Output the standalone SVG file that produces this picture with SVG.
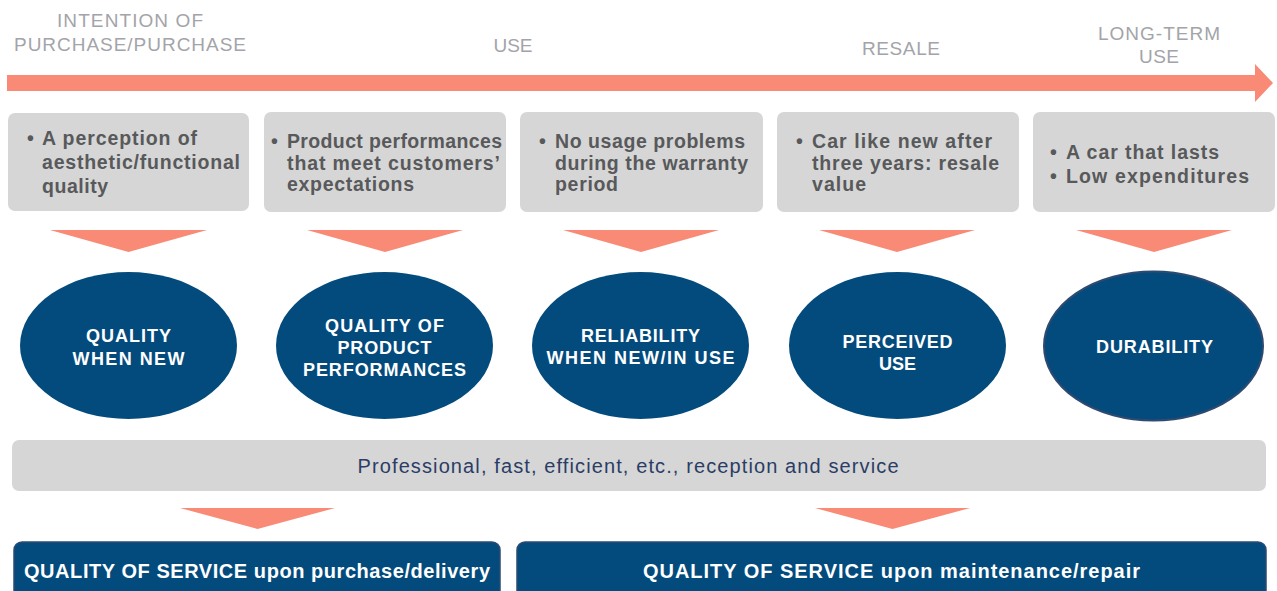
<svg xmlns="http://www.w3.org/2000/svg" width="1277" height="591" viewBox="0 0 1277 591">
<style>
.lbl{font-family:"Liberation Sans",Arial,sans-serif;font-size:19px;fill:#a3a4a9;text-anchor:middle}
.box{fill:#d6d6d6}
.bt{font-family:"Liberation Sans",Arial,sans-serif;font-size:19.5px;font-weight:bold;fill:#58595b}
.ell{fill:#034b7d}
.et{font-family:"Liberation Sans",Arial,sans-serif;font-size:18px;font-weight:bold;fill:#ffffff;text-anchor:middle}
.sal{fill:#f98a75}
.bar{fill:#d6d6d6}
.bar-t{font-family:"Liberation Sans",Arial,sans-serif;font-size:20px;fill:#2b3d66;text-anchor:middle}
.svc{fill:#034b7d;stroke:#2d4b72;stroke-width:1.5}
.svc-t{font-family:"Liberation Sans",Arial,sans-serif;font-size:20px;font-weight:bold;fill:#ffffff;text-anchor:middle}
</style>
<rect width="1277" height="591" fill="#ffffff"/>

<g id="stage-labels">
<text class="lbl" x="130" y="27" textLength="146">INTENTION OF</text>
<text class="lbl" x="130" y="51" textLength="232">PURCHASE/PURCHASE</text>
<text class="lbl" x="513" y="52" textLength="39">USE</text>
<text class="lbl" x="901" y="55" textLength="78">RESALE</text>
<text class="lbl" x="1159" y="40" textLength="122">LONG-TERM</text>
<text class="lbl" x="1159" y="63" textLength="40">USE</text>
</g>

<g id="connectors">
<path class="sal" d="M7,75 H1255 V64 L1273,83 L1255,102 V91 H7 Z"/>
<path class="sal" d="M50,230 H207 L128.5,252 Z"/>
<path class="sal" d="M307,230 H463 L385,252 Z"/>
<path class="sal" d="M563,230 H719 L641,252 Z"/>
<path class="sal" d="M819,230 H975 L897,252 Z"/>
<path class="sal" d="M1076,230 H1232 L1154,252 Z"/>
<path class="sal" d="M180,508 H335 L257.5,529 Z"/>
<path class="sal" d="M815,508 H970 L892.5,529 Z"/>
</g>

<g id="box1">
<rect class="box" x="8" y="113" width="241" height="98" rx="7"/>
<text class="bt" x="27" y="145">•</text>
<text class="bt" x="42" y="145" textLength="155">A perception of</text>
<text class="bt" x="42" y="169" textLength="198">aesthetic/functional</text>
<text class="bt" x="42" y="193" textLength="66">quality</text>
</g>
<g id="box2">
<rect class="box" x="264" y="112" width="242" height="100" rx="7"/>
<text class="bt" x="271" y="148">•</text>
<text class="bt" x="287" y="148" textLength="215">Product performances</text>
<text class="bt" x="287" y="170" textLength="213">that meet customers’</text>
<text class="bt" x="287" y="191" textLength="127">expectations</text>
</g>
<g id="box3">
<rect class="box" x="520" y="112" width="243" height="100" rx="7"/>
<text class="bt" x="539" y="148">•</text>
<text class="bt" x="555" y="148" textLength="190">No usage problems</text>
<text class="bt" x="555" y="170" textLength="193">during the warranty</text>
<text class="bt" x="555" y="191" textLength="63">period</text>
</g>
<g id="box4">
<rect class="box" x="777" y="112" width="242" height="100" rx="7"/>
<text class="bt" x="796" y="148">•</text>
<text class="bt" x="812" y="148" textLength="180">Car like new after</text>
<text class="bt" x="812" y="170" textLength="187">three years: resale</text>
<text class="bt" x="812" y="191" textLength="54">value</text>
</g>
<g id="box5">
<rect class="box" x="1033" y="112" width="242" height="100" rx="7"/>
<text class="bt" x="1050" y="159">•</text>
<text class="bt" x="1066" y="159" textLength="153">A car that lasts</text>
<text class="bt" x="1050" y="183">•</text>
<text class="bt" x="1066" y="183" textLength="183">Low expenditures</text>
</g>

<g id="ellipse1">
<ellipse class="ell" cx="128.5" cy="345.5" rx="108.5" ry="73.5"/>
<text class="et" x="128.5" y="342" textLength="85">QUALITY</text>
<text class="et" x="128.5" y="365" textLength="112">WHEN NEW</text>
</g>
<g id="ellipse2">
<ellipse class="ell" cx="384.5" cy="345.5" rx="108.5" ry="73.5"/>
<text class="et" x="384.5" y="332" textLength="119">QUALITY OF</text>
<text class="et" x="384.5" y="354" textLength="94">PRODUCT</text>
<text class="et" x="384.5" y="376" textLength="163">PERFORMANCES</text>
</g>
<g id="ellipse3">
<ellipse class="ell" cx="640.5" cy="345.5" rx="108.5" ry="73.5"/>
<text class="et" x="640.5" y="342" textLength="119">RELIABILITY</text>
<text class="et" x="640.5" y="364" textLength="188">WHEN NEW/IN USE</text>
</g>
<g id="ellipse4">
<ellipse class="ell" cx="897.5" cy="345.5" rx="108.5" ry="73.5"/>
<text class="et" x="897.5" y="348" textLength="110">PERCEIVED</text>
<text class="et" x="897.5" y="370" textLength="37">USE</text>
</g>
<g id="ellipse5">
<ellipse class="ell" cx="1153.5" cy="346" rx="109.5" ry="74.5" stroke="#2f4a70" stroke-width="2"/>
<text class="et" x="1154.5" y="353" textLength="117">DURABILITY</text>
</g>

<g id="service-bar">
<rect class="bar" x="12" y="440" width="1254" height="51" rx="7"/>
<text class="bar-t" x="628" y="473" textLength="541">Professional, fast, efficient, etc., reception and service</text>
</g>

<g id="service-purchase">
<rect class="svc" x="14" y="542" width="486" height="70" rx="8"/>
<text class="svc-t" x="257" y="578" textLength="466">QUALITY OF SERVICE upon purchase/delivery</text>
</g>
<g id="service-maintenance">
<rect class="svc" x="517" y="542" width="749" height="70" rx="8"/>
<text class="svc-t" x="891.5" y="578" textLength="497">QUALITY OF SERVICE upon maintenance/repair</text>
</g>
</svg>
